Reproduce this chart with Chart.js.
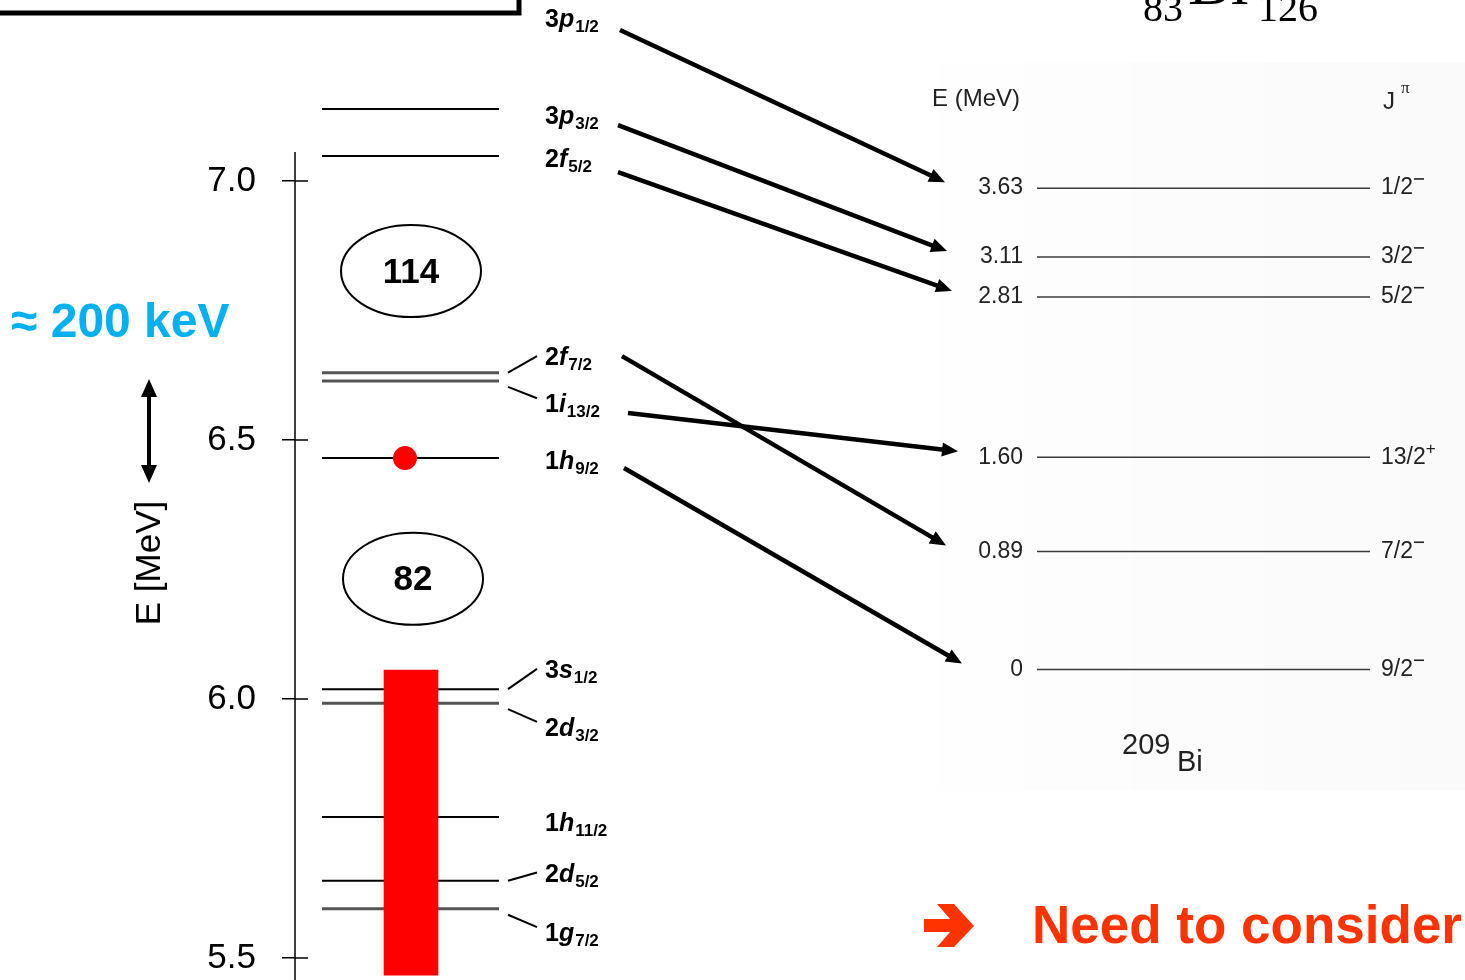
<!DOCTYPE html>
<html>
<head>
<meta charset="utf-8">
<script src="https://cdn.jsdelivr.net/npm/chart.js@4.4.1/dist/chart.umd.min.js"></script>
<style>
  html, body { margin: 0; padding: 0; background: #fff; overflow: hidden; }
  #wrap { width: 1465px; height: 980px; position: relative; }
</style>
</head>
<body>
<div id="wrap"><canvas id="c" width="1465" height="980"></canvas></div>
<script>
// Proton single-particle levels between the Z = 82 and Z = 114 gaps (MeV)
const shellLabels   = ['3p1/2', '3p3/2', '2f5/2', '2f7/2', '1i13/2', '1h9/2', '3s1/2', '2d3/2', '1h11/2', '2d5/2', '1g7/2'];
const shellEnergies = [7.40, 7.139, 7.048, 6.630, 6.614, 6.465, 6.019, 5.992, 5.772, 5.649, 5.595];
const shellTicks    = [5.5, 6.0, 6.5, 7.0];
const filledRange   = [5.467, 6.056];   // occupied proton levels
const oddProton     = '1h9/2';
const magicNumbers  = ['114', '82'];

// Measured 209Bi levels
const biEnergies = [3.63, 3.11, 2.81, 1.60, 0.89, 0];
const biSpins    = ['1/2-', '3/2-', '5/2-', '13/2+', '7/2-', '9/2-'];
const biOrbitals = ['3p1/2', '3p3/2', '2f5/2', '1i13/2', '2f7/2', '1h9/2'];

// Drawing layout (x in canvas units, label heights in MeV of the shell axis)
const layout = {
  axisX: 295, axisTop: 7.056, tickIn: 13,
  levelSpan: [322, 499],
  barX: 411, barWidth: 54,
  dotX: 405,
  labelX: 545,
  labelAt: {
    '3p1/2': 7.315, '3p3/2': 7.127, '2f5/2': 7.044, '2f7/2': 6.662, '1i13/2': 6.571,
    '1h9/2': 6.461, '3s1/2': 6.058, '2d3/2': 5.946, '1h11/2': 5.762, '2d5/2': 5.665, '1g7/2': 5.550
  },
  greyLevels: ['2f7/2', '1i13/2', '2d3/2', '1g7/2'],
  connectors: ['2f7/2', '1i13/2', '3s1/2', '2d3/2', '2d5/2', '1g7/2'],
  connectorX: [508, 537],
  arrowStart: {
    '3p1/2': [620, 7.2915], '3p3/2': [618, 7.108], '2f5/2': [618, 7.017],
    '2f7/2': [622, 6.662], '1i13/2': [628, 6.552], '1h9/2': [624, 6.446]
  },
  arrowTipX: { '3p1/2': 945, '3p3/2': 947, '2f5/2': 952, '2f7/2': 946, '1i13/2': 958, '1h9/2': 962 },
  biSpan: [1037, 1370], biValueX: 1023, biSpinX: 1381,
  gapEllipses: [{ x: 411, e: 6.826 }, { x: 413, e: 6.232 }]
};

const SANS = '"Liberation Sans", Arial, Helvetica, sans-serif';
const SERIF = '"Liberation Serif", "Times New Roman", serif';

// level lines of the shell column
const levelSets = shellLabels.map((name, i) => {
  const grey = layout.greyLevels.includes(name);
  return {
    type: 'line',
    yAxisID: 'y',
    data: [{ x: layout.levelSpan[0], y: shellEnergies[i] }, { x: layout.levelSpan[1], y: shellEnergies[i] }],
    borderColor: grey ? '#555' : '#000',
    borderWidth: grey ? 3 : 2,
    pointRadius: 0,
    order: 2
  };
});

// level lines of 209Bi
const biSets = biEnergies.map(e => ({
  type: 'line',
  yAxisID: 'yBi',
  data: [{ x: layout.biSpan[0], y: e }, { x: layout.biSpan[1], y: e }],
  borderColor: '#3a3a3a',
  borderWidth: 1.5,
  pointRadius: 0,
  order: 2
}));

const filledSet = {
  type: 'bar',
  yAxisID: 'y',
  data: [{ x: layout.barX, y: filledRange }],
  backgroundColor: '#ff0000',
  borderWidth: 0,
  barThickness: layout.barWidth,
  grouped: false,
  order: 1
};

const protonSet = {
  type: 'scatter',
  yAxisID: 'y',
  data: [{ x: layout.dotX, y: shellEnergies[shellLabels.indexOf(oddProton)] }],
  pointRadius: 12,
  pointBackgroundColor: '#ff0000',
  pointBorderWidth: 0,
  order: 0
};

function drawOrbital(ctx, name, x, y) {
  const m = name.match(/^(\d)([a-z])(.+)$/);
  ctx.textBaseline = 'alphabetic';
  ctx.textAlign = 'left';
  ctx.fillStyle = '#000';
  const base = y + 9;
  ctx.font = 'bold 25px ' + SANS;
  ctx.fillText(m[1], x, base);
  x += ctx.measureText(m[1]).width;
  ctx.font = 'italic bold 25px ' + SANS;
  ctx.fillText(m[2], x, base);
  x += ctx.measureText(m[2]).width + 1;
  ctx.font = 'bold 17px ' + SANS;
  ctx.fillText(m[3], x, base + 5);
}

function drawArrowHead(ctx, x0, y0, x1, y1, len, half) {
  const a = Math.atan2(y1 - y0, x1 - x0);
  ctx.beginPath();
  ctx.moveTo(x1, y1);
  ctx.lineTo(x1 - len * Math.cos(a) + half * Math.sin(a), y1 - len * Math.sin(a) - half * Math.cos(a));
  ctx.lineTo(x1 - len * Math.cos(a) - half * Math.sin(a), y1 - len * Math.sin(a) + half * Math.cos(a));
  ctx.closePath();
  ctx.fill();
}

const decorations = {
  id: 'decorations',
  beforeDatasetsDraw(chart) {
    const ctx = chart.ctx;
    const X = chart.scales.x;
    const px = v => X.getPixelForValue(v);
    ctx.save();
    // faint backdrop of the 209Bi panel
    const g = ctx.createLinearGradient(px(895), 0, px(1465), 0);
    g.addColorStop(0, 'rgba(0,0,0,0.0)');
    g.addColorStop(0.3, 'rgba(0,0,0,0.008)');
    g.addColorStop(1, 'rgba(0,0,0,0.02)');
    ctx.fillStyle = g;
    ctx.fillRect(px(895), 62, px(1465) - px(895), 728);
    ctx.restore();
  },
  afterDatasetsDraw(chart) {
    const ctx = chart.ctx;
    const X = chart.scales.x, YS = chart.scales.y, YB = chart.scales.yBi;
    const px = v => X.getPixelForValue(v);
    const ps = e => YS.getPixelForValue(e);
    const pb = e => YB.getPixelForValue(e);
    ctx.save();

    // energy axis line and inner half of the ticks
    const ax = px(layout.axisX);
    ctx.strokeStyle = '#000';
    ctx.lineWidth = 1.5;
    ctx.beginPath();
    ctx.moveTo(ax, ps(layout.axisTop));
    ctx.lineTo(ax, chart.height);
    YS.ticks.forEach(t => {
      const y = ps(t.value);
      ctx.moveTo(ax, y);
      ctx.lineTo(ax + layout.tickIn, y);
    });
    ctx.stroke();

    // axis title
    ctx.save();
    ctx.translate(150, 563);
    ctx.rotate(-Math.PI / 2);
    ctx.font = '35px ' + SANS;
    ctx.fillStyle = '#000';
    ctx.textAlign = 'center';
    ctx.textBaseline = 'middle';
    ctx.fillText('E [MeV]', 0, 0);
    ctx.restore();

    // spread of the level energies
    ctx.fillStyle = '#00b0f0';
    ctx.font = 'bold 48px ' + SANS;
    ctx.textAlign = 'left';
    ctx.textBaseline = 'alphabetic';
    ctx.fillText('\u2248 200 keV', 11, 337);

    ctx.fillStyle = '#000';
    ctx.strokeStyle = '#000';
    ctx.lineWidth = 4;
    ctx.beginPath();
    ctx.moveTo(149, 392);
    ctx.lineTo(149, 470);
    ctx.stroke();
    drawArrowHead(ctx, 149, 430, 149, 379, 18, 8);
    drawArrowHead(ctx, 149, 430, 149, 483, 18, 8);

    // gap markers
    magicNumbers.forEach((n, i) => {
      const g = layout.gapEllipses[i];
      const cx = px(g.x), cy = ps(g.e);
      ctx.beginPath();
      ctx.ellipse(cx, cy, 70, 46, 0, 0, Math.PI * 2);
      ctx.lineWidth = 2;
      ctx.strokeStyle = '#000';
      ctx.stroke();
      ctx.font = 'bold 35px ' + SANS;
      ctx.textAlign = 'center';
      ctx.textBaseline = 'middle';
      ctx.fillStyle = '#000';
      ctx.fillText(n, cx, cy + 2);
    });

    // orbital names and their connectors
    shellLabels.forEach((name, i) => {
      const ly = ps(layout.labelAt[name]);
      drawOrbital(ctx, name, px(layout.labelX), ly);
      if (layout.connectors.includes(name)) {
        const lev = ps(shellEnergies[i]);
        const down = ly > lev;
        ctx.beginPath();
        ctx.moveTo(px(layout.connectorX[0]), lev + (down ? 6 : 0));
        ctx.lineTo(px(layout.connectorX[1]), ly + (down ? -5 : 0));
        ctx.lineWidth = 2;
        ctx.strokeStyle = '#000';
        ctx.stroke();
      }
    });

    // correspondence arrows to the 209Bi levels
    biOrbitals.forEach((name, i) => {
      const s = layout.arrowStart[name];
      const x0 = px(s[0]), y0 = ps(s[1]);
      const x1 = px(layout.arrowTipX[name]), y1 = pb(biEnergies[i]) - 6;
      const a = Math.atan2(y1 - y0, x1 - x0);
      ctx.beginPath();
      ctx.moveTo(x0, y0);
      ctx.lineTo(x1 - 12 * Math.cos(a), y1 - 12 * Math.sin(a));
      ctx.lineWidth = 4.5;
      ctx.strokeStyle = '#000';
      ctx.stroke();
      ctx.fillStyle = '#000';
      drawArrowHead(ctx, x0, y0, x1, y1, 16, 7);
    });

    // 209Bi level values and spins
    ctx.fillStyle = '#222';
    ctx.textBaseline = 'middle';
    biEnergies.forEach((e, i) => {
      const y = pb(e);
      ctx.textAlign = 'right';
      ctx.font = '23px ' + SANS;
      ctx.fillText(e === 0 ? '0' : e.toFixed(2), px(layout.biValueX), y);
      ctx.textAlign = 'left';
      const txt = biSpins[i].slice(0, -1);
      const sign = biSpins[i].slice(-1);
      const sx = px(layout.biSpinX);
      ctx.fillText(txt, sx, y);
      const w = ctx.measureText(txt).width;
      if (sign === '-') {
        ctx.fillRect(sx + w + 1, y - 10, 10, 1.6);
      } else {
        ctx.font = '17px ' + SANS;
        ctx.fillText('+', sx + w, y - 8);
      }
    });

    // panel headings
    ctx.font = '24px ' + SANS;
    ctx.textAlign = 'left';
    ctx.fillText('E (MeV)', 932, 99);
    ctx.fillText('J', 1383, 102);
    ctx.font = '17px ' + SERIF;
    ctx.fillText('\u03c0', 1401, 89);

    ctx.textBaseline = 'alphabetic';
    ctx.font = '29px ' + SANS;
    ctx.fillText('209', 1122, 754);
    ctx.fillText('Bi', 1177, 771);

    // nucleus symbol at the top
    ctx.fillStyle = '#000';
    ctx.font = '64px ' + SERIF;
    ctx.fillText('Bi', 1188, 4);
    ctx.font = '40px ' + SERIF;
    ctx.fillText('83', 1143, 21);
    ctx.fillText('126', 1258, 21);

    // framed caption box at the top left
    ctx.lineWidth = 5;
    ctx.strokeStyle = '#000';
    ctx.strokeRect(-10, -30, 529, 43);

    // conclusion line
    ctx.fillStyle = '#ff3300';
    ctx.beginPath();
    ctx.moveTo(924, 919); ctx.lineTo(950, 919); ctx.lineTo(937, 904); ctx.lineTo(954, 904);
    ctx.lineTo(974, 926); ctx.lineTo(954, 947); ctx.lineTo(937, 947); ctx.lineTo(950, 932);
    ctx.lineTo(924, 932);
    ctx.closePath();
    ctx.fill();
    ctx.font = 'bold 53px ' + SANS;
    ctx.fillText('Need to consider', 1032, 943);

    ctx.restore();
  }
};

new Chart(document.getElementById('c'), {
  type: 'line',
  data: { datasets: [...levelSets, ...biSets, filledSet, protonSet] },
  options: {
    responsive: false,
    animation: false,
    devicePixelRatio: 1,
    layout: { padding: 0, autoPadding: false },
    plugins: { legend: { display: false }, tooltip: { enabled: false } },
    events: [],
    scales: {
      x: { type: 'linear', display: false, offset: false, grid: { offset: false }, min: 295, max: 1465 },
      y: {
        type: 'linear',
        position: 'left',
        min: 5.4575, max: 7.3494,
        afterBuildTicks: s => { s.ticks = shellTicks.map(v => ({ value: v })); },
        afterFit: s => { s.width = 295; s.paddingTop = 0; s.paddingBottom = 0; },
        ticks: {
          color: '#000',
          font: { family: SANS, size: 35 },
          padding: 26,
          callback: v => Number(v).toFixed(1)
        },
        grid: { drawOnChartArea: false, drawTicks: true, tickLength: 13, color: '#000', lineWidth: 1.5 },
        border: { display: false }
      },
      yBi: { type: 'linear', display: false, min: -2.342, max: 5.049 }
    }
  },
  plugins: [decorations]
});
</script>
</body>
</html>
